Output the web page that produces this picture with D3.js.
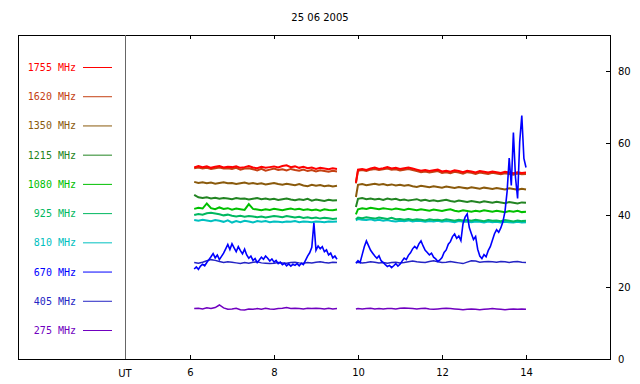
<!DOCTYPE html>
<html>
<head>
<meta charset="utf-8">
<script src="https://cdn.jsdelivr.net/npm/d3@7"></script>
<style>
  body { margin: 0; background: #fff; }
  text { font-family: 'DejaVu Sans', sans-serif; font-size: 10px; }
  .legend text { font-family: 'DejaVu Sans Mono', monospace; }
  .tick line, .frame { shape-rendering: crispEdges; }
</style>
</head>
<body>
<div id="chart"></div>
<script>
const title = '25 06 2005'

const hourTicks = [6, 8, 10, 12, 14]
const fluxTicks = [0, 20, 40, 60, 80]

// sampling times of the two recording intervals (UT hours)
const times1 = [6.1, 6.2, 6.3, 6.4, 6.5, 6.6, 6.7, 6.8, 6.9, 7.0, 7.1, 7.2, 7.3, 7.4, 7.5, 7.6, 7.7, 7.8, 7.9, 8.0,
  8.1, 8.2, 8.3, 8.4, 8.5, 8.6, 8.7, 8.8, 8.9, 9.0, 9.1, 9.2, 9.3, 9.4, 9.5]
const times2 = [9.95, 10.0, 10.1, 10.2, 10.3, 10.4, 10.5, 10.6, 10.7, 10.8, 10.9, 11.0, 11.1, 11.2, 11.3, 11.4, 11.5,
  11.6, 11.7, 11.8, 11.9, 12.0, 12.1, 12.2, 12.3, 12.4, 12.5, 12.6, 12.7, 12.8, 12.9, 13.0, 13.1, 13.2, 13.3,
  13.4, 13.5, 13.6, 13.7, 13.8, 13.9, 14.0]

const mhz1755a = [53.2, 53.6, 53.3, 53.5, 53.1, 53.4, 53.6, 53.2, 53.4, 53.3, 53.5, 53.1, 53.3, 53.6, 53.2, 53.0, 53.4, 53.1,
  53.3, 53.5, 53.2, 53.6, 53.8, 53.3, 53.5, 53.1, 53.4, 53.0, 53.2, 52.8, 53.1, 52.9, 52.7, 53.0, 52.8]
const mhz1755b = [49.0, 52.6, 52.8, 52.5, 52.9, 53.2, 52.8, 53.0, 53.3, 52.9, 53.1, 52.8, 53.0, 53.2, 52.9, 52.6, 52.3, 52.5,
  52.2, 52.4, 52.6, 52.1, 52.3, 52.0, 52.4, 52.2, 51.9, 52.3, 52.1, 51.8, 52.2, 52.0, 51.8, 52.1, 51.9, 51.7, 52.0,
  51.8, 51.6, 51.9, 51.7, 51.8]

const mhz1620a = [53.0, 53.2, 52.9, 53.1, 52.8, 53.0, 53.2, 52.9, 53.0, 52.8, 53.1, 52.6, 52.9, 53.0, 52.7, 52.4, 52.8, 52.3,
  52.6, 52.9, 52.5, 52.7, 52.4, 52.8, 52.5, 52.3, 52.6, 52.2, 52.5, 52.1, 52.4, 52.2, 52.0, 52.3, 52.1]
const mhz1620b = [48.8, 52.3, 52.5, 52.2, 52.6, 52.8, 52.5, 52.7, 52.9, 52.6, 52.7, 52.4, 52.6, 52.8, 52.5, 52.2, 51.9, 52.1,
  51.8, 52.0, 52.2, 51.7, 51.9, 51.6, 52.0, 51.8, 51.5, 51.9, 51.7, 51.4, 51.8, 51.6, 51.4, 51.7, 51.5, 51.3, 51.6,
  51.4, 51.2, 51.5, 51.3, 51.4]

const mhz1350a = [49.2, 48.9, 49.1, 48.8, 49.0, 48.7, 48.9, 49.1, 48.8, 48.9, 48.6, 48.8, 49.0, 48.7, 48.9, 48.6, 48.8, 48.5,
  48.7, 48.9, 48.6, 48.4, 48.7, 48.5, 48.3, 48.6, 48.2, 48.0, 48.4, 48.1, 48.3, 48.0, 48.2, 47.9, 48.1]
const mhz1350b = [45.0, 48.4, 48.6, 48.3, 48.5, 48.7, 48.4, 48.6, 48.3, 48.5, 48.2, 48.4, 48.1, 48.3, 48.0, 47.8, 48.1, 47.9,
  47.7, 48.0, 47.8, 47.6, 47.9, 47.7, 47.5, 47.8, 47.6, 47.4, 47.7, 47.5, 47.3, 47.6, 47.4, 47.2, 47.5, 47.3, 47.1,
  47.4, 47.2, 47.0, 47.3, 47.1]

const mhz1215a = [45.6, 44.9, 44.7, 44.9, 44.6, 44.8, 44.5, 44.7, 44.6, 44.4, 44.7, 44.5, 44.6, 44.3, 44.5, 44.7, 44.4, 44.6,
  44.3, 44.5, 44.2, 44.4, 44.6, 44.3, 44.1, 44.4, 44.2, 44.5, 44.0, 44.3, 44.1, 43.9, 44.2, 44.0, 44.1]
const mhz1215b = [42.2, 44.5, 44.7, 44.4, 44.6, 44.3, 44.5, 44.2, 44.6, 44.3, 44.5, 44.1, 44.3, 44.0, 44.2, 44.4, 44.0, 44.2,
  43.9, 44.1, 43.8, 44.0, 44.2, 43.9, 43.7, 44.0, 43.8, 43.6, 43.9, 43.7, 43.5, 43.8, 43.6, 43.4, 43.7, 43.5, 43.3,
  43.6, 43.4, 43.2, 43.5, 43.4]

const mhz1080a = [41.7, 42.0, 41.8, 43.2, 41.9, 41.6, 42.1, 41.7, 41.9, 41.5, 41.8, 41.6, 41.4, 43.0, 41.7, 41.5, 41.3, 41.6,
  41.4, 41.7, 41.5, 41.3, 41.6, 41.8, 41.5, 41.7, 41.4, 41.6, 41.3, 41.5, 41.2, 41.6, 41.4, 41.3, 41.5]
const mhz1080b = [40.2, 41.6, 41.9, 41.7, 42.0, 41.8, 41.6, 41.9, 41.7, 41.5, 41.8, 41.6, 41.4, 41.7, 41.5, 41.3, 41.6, 41.4,
  41.2, 41.5, 41.3, 41.1, 41.4, 41.6, 41.2, 41.0, 41.3, 41.1, 40.9, 41.2, 41.0, 41.3, 41.1, 40.9, 41.2, 41.0, 40.8,
  41.1, 40.9, 41.2, 40.8, 40.9]

const mhz925a = [40.0, 40.3, 40.1, 40.5, 40.6, 40.4, 40.2, 39.9, 40.1, 39.8, 39.6, 39.8, 39.5, 39.7, 39.6, 39.4, 39.6, 39.3,
  39.5, 39.7, 39.6, 39.4, 39.7, 39.5, 39.3, 39.5, 39.2, 39.4, 39.1, 39.3, 39.0, 39.2, 39.1, 38.9, 39.0]
const mhz925b = [38.8, 39.3, 39.1, 39.4, 39.2, 39.0, 39.3, 39.1, 38.9, 39.2, 38.8, 38.9, 38.7, 38.9, 38.6, 38.8, 38.7, 38.5,
  38.8, 38.6, 38.7, 38.5, 38.8, 38.6, 38.4, 38.7, 38.5, 38.6, 38.4, 38.7, 38.5, 38.3, 38.6, 38.4, 38.5, 38.3, 38.6,
  38.4, 38.2, 38.5, 38.3, 38.4]

const mhz810a = [38.6, 38.4, 38.7, 38.5, 38.3, 38.6, 38.4, 38.1, 38.5, 37.9, 38.3, 38.0, 38.4, 38.2, 37.9, 38.3, 38.1, 38.3,
  38.0, 38.2, 38.1, 38.0, 38.2, 38.1, 38.3, 38.0, 38.2, 38.1, 38.0, 38.2, 38.1, 38.0, 38.2, 38.1, 38.2]
const mhz810b = [38.5, 38.9, 38.7, 38.6, 38.8, 38.5, 38.7, 38.4, 38.6, 38.3, 38.2, 38.4, 38.3, 38.5, 38.2, 38.4, 38.3, 38.1,
  38.3, 38.2, 38.4, 38.1, 38.3, 38.2, 38.0, 38.3, 38.1, 38.2, 38.0, 38.2, 38.1, 37.9, 38.2, 38.0, 38.1, 37.9, 38.1,
  38.0, 37.9, 38.1, 37.9, 38.0]

const mhz405a = [26.8, 26.6, 26.9, 27.3, 27.6, 27.4, 27.1, 26.8, 27.0, 26.9, 26.7, 26.5, 26.8, 26.6, 26.9, 27.0, 26.7, 26.6,
  26.5, 26.6, 26.8, 26.7, 26.6, 26.8, 26.9, 26.7, 26.6, 26.8, 26.7, 26.9, 27.0, 26.8, 26.7, 26.9, 26.8]
const mhz405b = [26.8, 26.9, 26.7, 26.8, 27.0, 26.9, 26.7, 26.8, 26.6, 26.8, 26.9, 26.7, 26.8, 27.0, 27.2, 27.0, 26.9, 26.8,
  27.1, 27.3, 27.0, 26.8, 26.9, 27.1, 26.9, 26.7, 26.5, 26.9, 27.3, 27.2, 26.9, 27.0, 27.1, 27.0, 26.9, 27.1, 27.0,
  26.8, 27.0, 27.1, 26.9, 26.8]

const mhz275a = [14.0, 14.1, 13.9, 14.2, 14.0, 14.3, 15.0, 14.2, 13.8, 13.9, 14.1, 13.7, 13.6, 13.9, 13.8, 14.0, 13.8, 14.1,
  13.9, 13.8, 14.0, 14.1, 14.3, 14.0, 14.1, 14.0, 13.9, 14.1, 14.0, 14.1, 14.0, 13.9, 14.1, 13.9, 14.0]
const mhz275b = [13.9, 14.0, 13.9, 14.0, 14.1, 13.9, 14.0, 13.9, 14.0, 14.0, 13.9, 14.1, 14.2, 14.1, 14.0, 13.9, 14.0, 14.1,
  13.9, 13.8, 13.9, 14.0, 14.1, 14.0, 13.9, 13.8, 13.7, 13.8, 13.9, 13.8, 13.7, 13.8, 13.9, 14.0, 13.9, 13.8, 13.7,
  13.8, 13.9, 13.8, 13.9, 13.8]

// 670 MHz is the active channel, sampled finer: [hour, flux]
const mhz670a = [[6.10, 25.0], [6.15, 25.6], [6.20, 24.9], [6.25, 25.8], [6.30, 26.3], [6.35, 25.9], [6.40, 26.8],
  [6.45, 27.6], [6.50, 28.4], [6.55, 29.3], [6.60, 28.1], [6.65, 28.9], [6.70, 27.6], [6.75, 28.5], [6.80, 29.4],
  [6.85, 30.6], [6.90, 31.8], [6.95, 30.4], [7.00, 32.0], [7.05, 30.9], [7.10, 29.8], [7.15, 31.2], [7.20, 30.1],
  [7.25, 29.2], [7.30, 30.5], [7.35, 28.9], [7.40, 28.0], [7.45, 28.6], [7.50, 27.4], [7.55, 27.9], [7.60, 26.8],
  [7.65, 27.5], [7.70, 28.3], [7.75, 27.7], [7.80, 28.6], [7.85, 28.0], [7.90, 27.2], [7.95, 27.8], [8.00, 26.9],
  [8.05, 27.4], [8.10, 26.5], [8.15, 26.9], [8.20, 26.2], [8.25, 26.6], [8.30, 25.9], [8.35, 26.4], [8.40, 25.8],
  [8.45, 26.3], [8.50, 26.0], [8.55, 26.5], [8.60, 25.9], [8.65, 26.6], [8.70, 26.2], [8.75, 27.4], [8.80, 28.6],
  [8.85, 29.5], [8.90, 31.0], [8.95, 37.8], [9.00, 30.2], [9.05, 31.4], [9.10, 30.6], [9.15, 31.2], [9.20, 29.8],
  [9.25, 30.3], [9.30, 28.9], [9.35, 29.4], [9.40, 28.1], [9.45, 28.6], [9.50, 27.7]]
const mhz670b = [[9.95, 26.6], [10.00, 27.3], [10.05, 26.8], [10.10, 29.0], [10.15, 31.2], [10.20, 32.8], [10.25, 31.5],
  [10.30, 30.2], [10.35, 29.4], [10.40, 28.6], [10.45, 28.0], [10.50, 28.7], [10.55, 27.3], [10.60, 26.8],
  [10.65, 26.2], [10.70, 25.7], [10.75, 26.0], [10.80, 25.4], [10.85, 25.9], [10.90, 26.5], [10.95, 25.8],
  [11.00, 26.3], [11.05, 27.2], [11.10, 28.0], [11.15, 27.6], [11.20, 28.8], [11.25, 29.5], [11.30, 30.6],
  [11.35, 31.3], [11.40, 30.7], [11.45, 32.0], [11.50, 32.8], [11.55, 31.4], [11.60, 30.2], [11.65, 29.6],
  [11.70, 28.9], [11.75, 29.4], [11.80, 28.3], [11.85, 27.8], [11.90, 27.1], [11.95, 27.5], [12.00, 28.2],
  [12.05, 29.6], [12.10, 30.3], [12.15, 31.9], [12.20, 32.6], [12.25, 34.0], [12.30, 34.7], [12.35, 33.5],
  [12.40, 34.2], [12.45, 32.9], [12.50, 37.6], [12.55, 39.4], [12.60, 40.3], [12.65, 36.5], [12.70, 34.8],
  [12.75, 33.2], [12.80, 34.0], [12.85, 30.5], [12.90, 28.6], [12.95, 27.9], [13.00, 29.0], [13.05, 28.4],
  [13.10, 30.1], [13.15, 31.2], [13.20, 33.0], [13.25, 34.8], [13.30, 35.9], [13.35, 35.2], [13.40, 36.4],
  [13.45, 38.1], [13.50, 41.0], [13.55, 46.5], [13.60, 55.8], [13.65, 48.2], [13.70, 62.9], [13.75, 50.4],
  [13.80, 44.6], [13.85, 60.3], [13.90, 67.6], [13.95, 55.7], [14.00, 53.2]]

const labels = ['1755 MHz', '1620 MHz', '1350 MHz', '1215 MHz', '1080 MHz', '925 MHz', '810 MHz', '670 MHz', '405 MHz', '275 MHz']
const colors = ['#ff0000', '#c44012', '#8a5a0c', '#228422', '#00c000', '#00b860', '#00c0c0', '#0000ff', '#2424c4', '#7000c0']

const width = 640
const height = 384
const frame = { left: 18, top: 35, right: 610, bottom: 359 }
const utX = 125

const pair = (times, values) => times.map((t, i) => [t, values[i]]).filter(d => d[1] !== undefined)

// drawing order: bottom of the legend first, 670 MHz on top
const series = [
  { color: colors[9], width: 1.5, segs: [pair(times1, mhz275a), pair(times2, mhz275b)] },
  { color: colors[8], width: 1.5, segs: [pair(times1, mhz405a), pair(times2, mhz405b)] },
  { color: colors[6], width: 2, segs: [pair(times1, mhz810a), pair(times2, mhz810b)] },
  { color: colors[5], width: 2, segs: [pair(times1, mhz925a), pair(times2, mhz925b)] },
  { color: colors[4], width: 2, segs: [pair(times1, mhz1080a), pair(times2, mhz1080b)] },
  { color: colors[3], width: 2, segs: [pair(times1, mhz1215a), pair(times2, mhz1215b)] },
  { color: colors[2], width: 2, segs: [pair(times1, mhz1350a), pair(times2, mhz1350b)] },
  { color: colors[1], width: 2, segs: [pair(times1, mhz1620a), pair(times2, mhz1620b)] },
  { color: colors[0], width: 2, segs: [pair(times1, mhz1755a), pair(times2, mhz1755b)] },
  { color: colors[7], width: 1.6, segs: [mhz670a, mhz670b] }
]

const x = d3.scaleLinear()
  .domain([6, 16])
  .range([190, frame.right])

const y = d3.scaleLinear()
  .domain([0, 90])
  .range([frame.bottom, frame.top])

const svg = d3.select('#chart')
  .append('svg')
  .attr('width', width)
  .attr('height', height)
  .style('background', '#fff')

svg.append('text')
  .attr('x', 320)
  .attr('y', 21)
  .attr('text-anchor', 'middle')
  .text(title)

// bottom axis, ticks pointing up into the plot
const bottomAxis = svg.append('g')
  .attr('transform', `translate(0,${frame.bottom})`)
  .call(d3.axisBottom(x).tickValues(hourTicks).tickSizeInner(-4).tickSizeOuter(0).tickPadding(10))
bottomAxis.select('.domain').remove()
bottomAxis.selectAll('text').attr('font-size', 10).attr('font-family', 'DejaVu Sans')

// top edge ticks pointing down
const topAxis = svg.append('g')
  .attr('transform', `translate(0,${frame.top})`)
  .call(d3.axisTop(x).tickValues(hourTicks).tickSizeInner(-4).tickSizeOuter(0).tickFormat(''))
topAxis.select('.domain').remove()

// right axis with ticks pointing into the plot
const rightAxis = svg.append('g')
  .attr('transform', `translate(${frame.right},0)`)
  .call(d3.axisRight(y).tickValues(fluxTicks).tickSizeInner(-4).tickSizeOuter(0).tickPadding(8))
rightAxis.select('.domain').remove()
rightAxis.selectAll('text').attr('font-size', 10).attr('font-family', 'DejaVu Sans')

svg.append('rect')
  .attr('class', 'frame')
  .attr('x', frame.left)
  .attr('y', frame.top)
  .attr('width', frame.right - frame.left)
  .attr('height', frame.bottom - frame.top)
  .attr('fill', 'none')
  .attr('stroke', '#000')

svg.append('line')
  .attr('class', 'frame')
  .attr('x1', utX)
  .attr('x2', utX)
  .attr('y1', frame.top)
  .attr('y2', frame.bottom)
  .attr('stroke', '#666')

svg.append('text')
  .attr('x', utX)
  .attr('y', 377)
  .attr('text-anchor', 'middle')
  .text('UT')

const line = d3.line()
  .x(d => x(d[0]))
  .y(d => y(d[1]))

const plot = svg.append('g')

series.forEach(s => {
  plot.selectAll(null)
    .data(s.segs)
    .enter()
    .append('path')
    .attr('d', line)
    .attr('fill', 'none')
    .attr('stroke', s.color)
    .attr('stroke-width', s.width)
})

// legend
const legend = svg.append('g').attr('class', 'legend')
const row = d3.scalePoint().domain(labels).range([67.5, 330.5])

const item = legend.selectAll('g')
  .data(labels)
  .enter()
  .append('g')
  .attr('transform', d => `translate(0,${row(d)})`)

item.append('text')
  .attr('x', 76)
  .attr('dy', '0.35em')
  .attr('text-anchor', 'end')
  .attr('fill', (d, i) => colors[i])
  .text(d => d)

item.append('line')
  .attr('x1', 83)
  .attr('x2', 112)
  .attr('stroke', (d, i) => colors[i])
</script>
</body>
</html>
